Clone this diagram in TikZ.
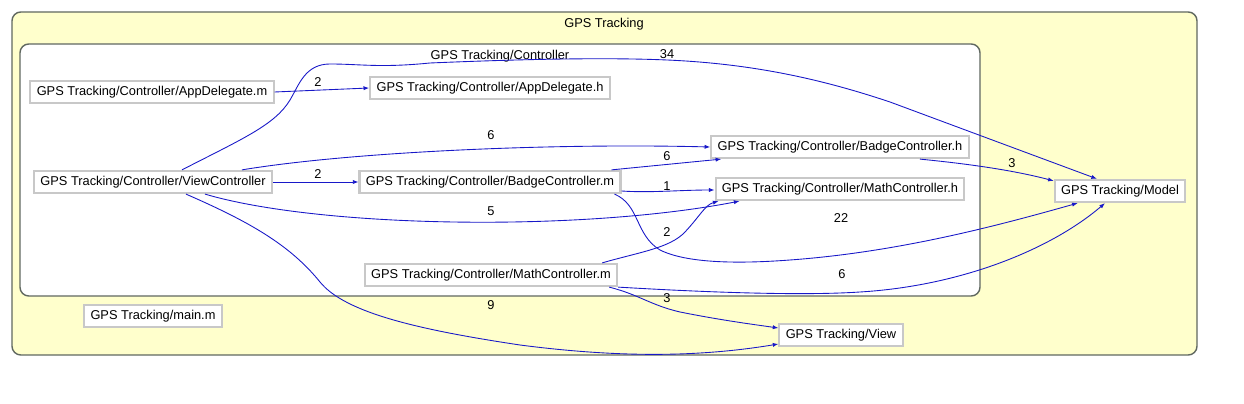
\documentclass[tikz,border=0pt]{standalone}
\usepackage{fontspec}
\setmainfont{Liberation Sans}
\usetikzlibrary{positioning,arrows.meta,calc}
\definecolor{clusterfill}{RGB}{255,255,204}
\definecolor{clusterline}{RGB}{96,104,96}
\definecolor{boxgray}{RGB}{200,200,200}
\definecolor{edgeblue}{RGB}{24,24,200}

\begin{document}
\begin{tikzpicture}[x=0.02cm, y=-0.02cm, font=\fontsize{7.3}{9}\selectfont,
  filebox/.style={draw=boxgray, fill=white, line width=1.2pt, inner xsep=3.6pt, inner ysep=0pt, minimum height=12.6pt},
  cluster/.style={draw=clusterline, line width=0.8pt, rounded corners=5pt},
  edge/.style={draw=edgeblue, line width=0.5pt, -{Latex[length=3.2pt,width=2.4pt]}},
  elabel/.style={inner sep=0pt}]
\useasboundingbox (0,0) rectangle (1244,404);
% clusters
\draw[cluster, fill=clusterfill] (12,12) rectangle (1197,355);
\node (lbltrack) at (604,24) {GPS Tracking};
\draw[cluster, fill=white] (20,44) rectangle (980,296);
\node (lblctrl) at (500,56) {GPS Tracking/Controller};
% files
\node[filebox] (appm) at (152,92) {GPS Tracking/Controller/AppDelegate.m};
\node[filebox] (apph) at (490,88) {GPS Tracking/Controller/AppDelegate.h};
\node[filebox] (vc) at (153,182) {GPS Tracking/Controller/ViewController};
\node[filebox] (bcm) at (490,182) {GPS Tracking/Controller/BadgeController.m};
\node[filebox] (bch) at (840,147) {GPS Tracking/Controller/BadgeController.h};
\node[filebox] (mch) at (840,189) {GPS Tracking/Controller/MathController.h};
\node[filebox] (mcm) at (491,275) {GPS Tracking/Controller/MathController.m};
\node[filebox] (model) at (1120,191) {GPS Tracking/Model};
\node[filebox] (mainm) at (153,316) {GPS Tracking/main.m};
\node[filebox] (view) at (841,335) {GPS Tracking/View};
% dependencies
\draw[edge] (appm.east) -- (apph.west);
\draw[edge] (vc.east) -- (bcm.west);
\draw[edge] ($(vc.north)+(89,0)$) .. controls (350,152) and (550,143) .. (bch.west);
\draw[edge] ($(vc.south)+(52,0)$) .. controls (320,228) and (580,232) .. ($(mch.south west)+(25,0)$);
\draw[edge] ($(vc.north)+(29,0)$) .. controls (242,139) and (275,125) .. (290,100)
  .. controls (299,85) and (305,64) .. (330,64)
  .. controls (360,64) and (380,68) .. (430,63)
  .. controls (550,58) and (620,58) .. (667,60)
  .. controls (760,64) and (830,82) .. (890,102)
  -- ($(model.north)+(-23,0)$);
\draw[edge] ($(vc.south)+(33,0)$) .. controls (250,222) and (290,245) .. (320,282)
  .. controls (345,313) and (420,330) .. (520,345)
  .. controls (620,358) and (700,357) .. ($(view.west)+(0,9)$);
\draw[edge] ($(bcm.north east)+(-10,0)$) -- ($(bch.south west)+(11,0)$);
\draw[edge] ($(bcm.east)+(0,9)$) .. controls (650,193) and (680,190) .. ($(mch.west)+(0,1)$);
\draw[edge] ($(bcm.south east)+(-7,0)$) .. controls (640,205) and (635,235) .. (660,250)
  .. controls (690,265) and (750,263) .. (790,260)
  .. controls (900,252) and (1000,225) .. ($(model.south west)+(24,0)$);
\draw[edge] ($(bch.south)+(80,0)$) .. controls (980,165) and (1020,172) .. ($(model.north west)+(0,2)$);
\draw[edge] ($(mcm.north east)+(-16,0)$) .. controls (640,252) and (670,248) .. (685,232)
  .. controls (700,216) and (705,205) .. ($(mch.south west)+(4,0)$);
\draw[edge] (mcm.south east) .. controls (700,292) and (800,296) .. (860,292)
  .. controls (960,286) and (1050,250) .. ($(model.south)+(-15,0)$);
\draw[edge] ($(mcm.south east)+(-9,0)$) .. controls (640,295) and (650,305) .. (680,312)
  .. controls (720,320) and (750,324) .. ($(view.west)+(0,-7)$);
% edge counts
\node[elabel] (n1) at (318,82) {2};
\node[elabel] (n2) at (318,174) {2};
\node[elabel] (n3) at (491,135) {6};
\node[elabel] (n4) at (491,211) {5};
\node[elabel] (n5) at (667,54) {34};
\node[elabel] (n6) at (491,305) {9};
\node[elabel] (n7) at (667,156) {6};
\node[elabel] (n8) at (667,186) {1};
\node[elabel] (n9) at (841,218) {22};
\node[elabel] (n10) at (1012,163) {3};
\node[elabel] (n11) at (667,232) {2};
\node[elabel] (n12) at (842,274) {6};
\node[elabel] (n13) at (667,298) {3};
\end{tikzpicture}
\end{document}
